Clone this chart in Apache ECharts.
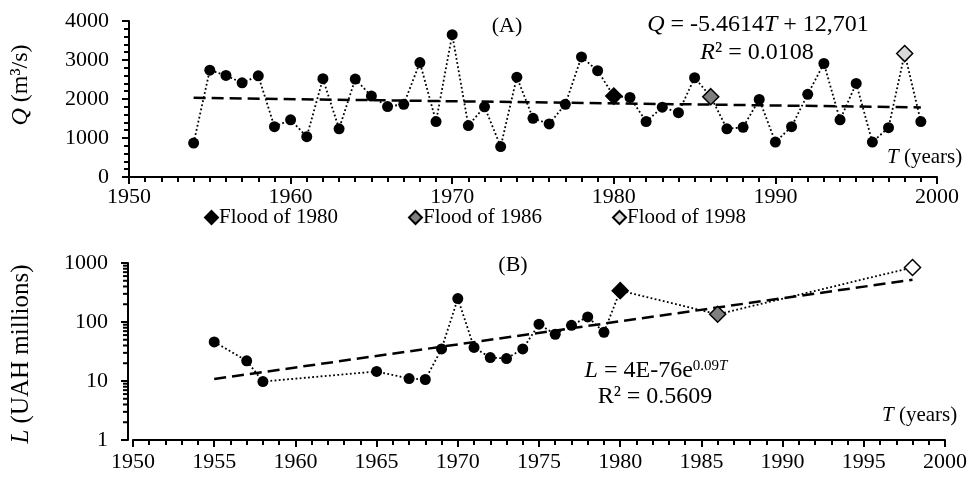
<!DOCTYPE html>
<html>
<head>
<meta charset="utf-8">
<script src="https://cdn.jsdelivr.net/npm/echarts@6/dist/echarts.min.js"></script>
<style>
  html, body { margin: 0; padding: 0; background: #fff; }
  #chart { width: 979px; height: 479px; }
</style>
</head>
<body>
<div id="chart"></div>
<script>
// (A) annual peak discharge
const qYears = [1954,1955,1956,1957,1958,1959,1960,1961,1962,1963,1964,1965,1966,1967,1968,1969,
  1970,1971,1972,1973,1974,1975,1976,1977,1978,1979,1980,1981,1982,1983,1984,1985,1986,1987,1988,
  1989,1990,1991,1992,1993,1994,1995,1996,1997,1998,1999];
const qValues = [870,2740,2605,2415,2595,1290,1465,1035,2520,1235,2510,2075,1805,1865,2935,1420,
  3650,1320,1800,780,2560,1505,1360,1865,3080,2725,2075,2040,1420,1790,1650,2545,2060,1235,1275,
  1990,895,1290,2120,2910,1465,2400,895,1265,3165,1420];
const qTrend = [[1954, 2030], [1999, 1785]];

// (B) flood losses
const lYears = [1955,1957,1958,1965,1967,1968,1969,1970,1971,1972,1973,1974,1975,1976,1977,1978,1979,1980,1986,1998];
const lValues = [46,22,9.8,14.5,11,10.6,35,250,37,25,24,35,92,62,88,122,67,340,135,840];
const lTrend = [[1955, 10.8], [1998, 520]];

const floodYears = [1980, 1986, 1998];
const floodNames = ['Flood of 1980', 'Flood of 1986', 'Flood of 1998'];
const floodColorsA = ['#000000', '#7f7f7f', '#d9d9d9'];
const floodColorsB = ['#000000', '#7f7f7f', '#ffffff'];

const FONT = "'Liberation Serif', 'Times New Roman', serif";
const chart = echarts.init(document.getElementById('chart'), null, { renderer: 'canvas' });

function lineData(years, vals) {
  return years.map((y, i) => floodYears.includes(y)
    ? { value: [y, vals[i]], symbol: 'none' }
    : [y, vals[i]]);
}
function floodSeries(years, vals, colors, axisIdx) {
  return floodYears.map((fy, k) => ({
    name: floodNames[k], type: 'scatter', xAxisIndex: axisIdx, yAxisIndex: axisIdx,
    symbol: 'diamond', symbolSize: 16, z: 5,
    itemStyle: { color: colors[k], borderColor: '#000', borderWidth: 1.5, opacity: 1 },
    data: [[fy, vals[years.indexOf(fy)]]]
  }));
}

// log minor ticks 2..9 per decade (axis decoration only)
const logMinor = [];
[1, 10, 100].forEach(d => { for (let m = 2; m <= 9; m++) logMinor.push([1950, m * d]); });

const plain = v => String(v);
const axisLineStyle = { color: '#000', width: 2 };
const dotted = { color: '#000', width: 1.8, type: [1.8, 2.4] };
const xAxisBase = {
  type: 'value', min: 1950, max: 2000,
  axisLine: { lineStyle: axisLineStyle },
  axisTick: { length: 7, lineStyle: { color: '#000', width: 2 } },
  minorTick: { show: true, length: 5, lineStyle: { color: '#000', width: 2 } },
  splitLine: { show: false }, minorSplitLine: { show: false },
  axisLabel: { color: '#000', fontSize: 22, fontFamily: FONT, formatter: plain }
};
function richFor(size) {
  const sup = Math.round(size * 0.62);
  return {
    i: { fontStyle: 'italic', fontSize: size, fontFamily: FONT, fill: '#000' },
    sup: { fontSize: sup, fontFamily: FONT, verticalAlign: 'top', padding: [0, 0, 9, 0] },
    supi: { fontSize: sup, fontFamily: FONT, fontStyle: 'italic', verticalAlign: 'top', padding: [0, 0, 9, 0] }
  };
}
function txt(x, y, text, size, align, rotation) {
  return {
    type: 'text', x: x, y: y, rotation: rotation || 0, silent: true,
    style: { text: text, font: size + 'px ' + FONT, fill: '#000', align: align || 'center',
      verticalAlign: 'middle', rich: richFor(size) }
  };
}

const option = {
  animation: false,
  backgroundColor: '#fff',
  grid: [
    { left: 129, right: 42, top: 21, height: 156 },
    { left: 133, right: 34, top: 263, height: 177 }
  ],
  xAxis: [
    Object.assign({}, xAxisBase, { gridIndex: 0, interval: 10, minorTick: Object.assign({}, xAxisBase.minorTick, { splitNumber: 10 }),
      axisLabel: Object.assign({}, xAxisBase.axisLabel, { margin: 9 }) }),
    Object.assign({}, xAxisBase, { gridIndex: 1, interval: 5, minorTick: Object.assign({}, xAxisBase.minorTick, { splitNumber: 5 }),
      axisLabel: Object.assign({}, xAxisBase.axisLabel, { margin: 11 }) })
  ],
  yAxis: [
    { gridIndex: 0, type: 'value', min: 0, max: 4000, interval: 1000,
      axisLine: { show: true, lineStyle: axisLineStyle },
      axisTick: { show: true, length: 7, lineStyle: { color: '#000', width: 2 } },
      minorTick: { show: true, splitNumber: 5, length: 5, lineStyle: { color: '#000', width: 2 } },
      splitLine: { show: false },
      axisLabel: { color: '#000', fontSize: 22, fontFamily: FONT, margin: 20, formatter: plain } },
    { gridIndex: 1, type: 'log', logBase: 10, min: 1, max: 1000, offset: 5,
      axisLine: { show: true, lineStyle: axisLineStyle },
      axisTick: { show: true, length: 7, lineStyle: { color: '#000', width: 2 } },
      splitLine: { show: false },
      axisLabel: { color: '#000', fontSize: 22, fontFamily: FONT, margin: 20, formatter: plain } }
  ],
  legend: {
    data: floodNames.map(n => ({ name: n, icon: 'diamond' })),
    left: 199, top: 202, itemGap: 70, itemWidth: 13, itemHeight: 13,
    selectedMode: false,
    textStyle: { color: '#000', fontSize: 21, fontFamily: FONT, padding: [0, 0, 0, -4] }
  },
  series: [
    { type: 'line', xAxisIndex: 0, yAxisIndex: 0, data: qTrend, symbol: 'none', z: 2,
      lineStyle: { color: '#000', width: 2.5, type: [12, 6] } },
    { type: 'line', xAxisIndex: 0, yAxisIndex: 0, data: lineData(qYears, qValues), z: 3,
      symbol: 'circle', symbolSize: 11, itemStyle: { color: '#000' }, lineStyle: dotted },
    ...floodSeries(qYears, qValues, floodColorsA, 0),
    { type: 'line', xAxisIndex: 1, yAxisIndex: 1, data: lTrend, symbol: 'none', z: 2,
      lineStyle: { color: '#000', width: 2.5, type: [12, 6] } },
    { type: 'line', xAxisIndex: 1, yAxisIndex: 1, data: lineData(lYears, lValues), z: 3,
      symbol: 'circle', symbolSize: 11, itemStyle: { color: '#000' }, lineStyle: dotted },
    ...floodSeries(lYears, lValues, floodColorsB, 1),
    { type: 'custom', xAxisIndex: 1, yAxisIndex: 1, data: logMinor, clip: false, silent: true,
      renderItem: function (params, api) {
        const p = api.coord([api.value(0), api.value(1)]);
        const x0 = p[0] - 5;
        return { type: 'line', shape: { x1: x0 - 5, y1: p[1], x2: x0, y2: p[1] },
          style: { stroke: '#000', lineWidth: 2 } };
      } }
  ],
  graphic: [
    txt(507, 26, '(A)', 22),
    txt(758, 25, '{i|Q} = -5.4614{i|T} + 12,701', 24),
    txt(757, 53, '{i|R}² = 0.0108', 24),
    txt(887, 157, '{i|T} (years)', 21, 'left'),
    txt(513, 265, '(B)', 22),
    txt(656, 371, '{i|L} = 4E-76e{sup|0.09}{supi|T}', 24),
    txt(655, 397, 'R² = 0.5609', 24),
    txt(882, 415, '{i|T} (years)', 21, 'left'),
    txt(21, 85, '{i|Q} (m³/s)', 24, 'center', Math.PI / 2),
    txt(21, 354, '{i|L} (UAH millions)', 25, 'center', Math.PI / 2)
  ]
};
chart.setOption(option);
</script>
</body>
</html>
